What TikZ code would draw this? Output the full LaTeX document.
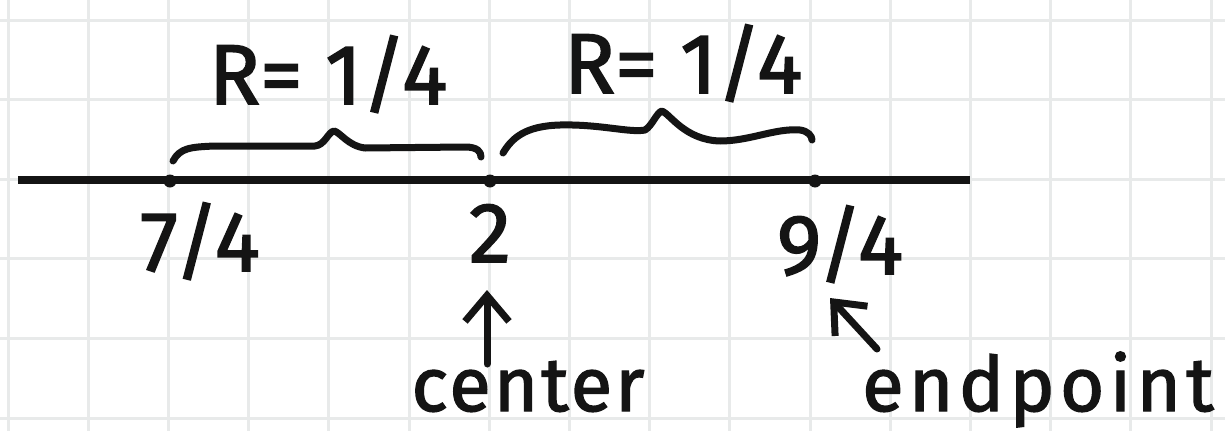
\documentclass[tikz,border=0pt]{standalone}
\usepackage{fontspec}
\setmainfont{Fira Sans}[FakeBold=1.8]
\newfontfamily\wordfont{Fira Sans}[FakeBold=1.8,LetterSpace=7]
\newfontfamily\wordfontb{Fira Sans}[FakeBold=1.8,LetterSpace=4]
\usetikzlibrary{arrows.meta}
\definecolor{ink}{HTML}{141414}
\definecolor{gridc}{HTML}{E8EAEA}
\begin{document}
\begin{tikzpicture}[x=1pt,y=-1pt,
  ink/.style={draw=ink,line width=7pt,line cap=round,line join=round},
  lbl/.style={text=ink,inner sep=0pt,font=\fontsize{85}{90}\selectfont},
  word/.style={text=ink,inner sep=0pt,font=\wordfont\fontsize{76}{80}\selectfont},
  wordb/.style={text=ink,inner sep=0pt,font=\wordfontb\fontsize{76}{80}\selectfont},
  pt/.style={circle,fill=ink,inner sep=0pt,minimum size=13pt},
  barb/.style={-{Straight Barb[length=26pt,width=44pt,line width=7pt]}}]
\useasboundingbox (0,0) rectangle (1225,431);
\fill[white] (0,0) rectangle (1225,431);
% grid
\foreach \i in {0,...,15} {\draw[gridc,line width=3pt] ({8+80.2*\i},0) -- ({8+80.2*\i},431);}
\foreach \j in {0,...,5} {\draw[gridc,line width=3pt] (0,{20+79.6*\j}) -- (1225,{20+79.6*\j});}
% number line
\coordinate (L) at (18,180);
\coordinate (Rr) at (970,180);
\draw[ink,line width=8pt,line cap=butt] (L) -- (Rr);
\node[pt] (p1) at (170,181) {};
\node[pt] (p2) at (490,181) {};
\node[pt] (p3) at (815,181) {};
% braces
\draw[ink] (173,161) .. controls (180,148) and (190,147) .. (215,146) -- (315,146)
  .. controls (325,145) and (328,132) .. (334,131)
  .. controls (340,132) and (348,146) .. (365,148) -- (465,147)
  .. controls (478,147) and (481,152) .. (481,157);
\draw[ink] (503,153) .. controls (512,138) and (525,126) .. (560,125)
  .. controls (600,124) and (630,133) .. (645,130)
  .. controls (652,126) and (657,112) .. (662,111)
  .. controls (670,114) and (685,140) .. (720,141)
  .. controls (750,141) and (775,128) .. (800,130)
  .. controls (808,131) and (812,136) .. (812,140);
% labels
\node[lbl,anchor=base] (r1) at (328,104) {R= 1/4};
\node[lbl,anchor=base] (r2) at (683,93) {R= 1/4};
\node[lbl,anchor=base] (n1) at (200,271) {7/4};
\node[lbl,anchor=base] (n2) at (490,262) {2};
\node[lbl,anchor=base] (n3) at (840,274) {9/4};
\node[wordb,anchor=base] (c) at (528,411) {center};
\node[word,anchor=base] (e) at (1038,411) {endpoint};
% arrows
\coordinate (a1s) at (487,364);
\coordinate (a1t) at (487,290);
\coordinate (a2s) at (877,349);
\coordinate (a2t) at (830,298);
\draw[ink,barb] (a1s) -- (a1t);
\draw[ink,barb] (a2s) -- (a2t);
\end{tikzpicture}
\end{document}
